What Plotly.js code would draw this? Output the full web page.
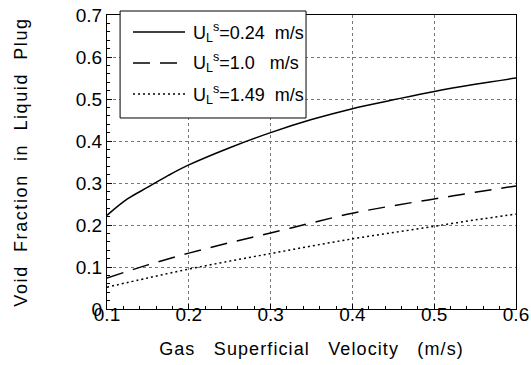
<!DOCTYPE html>
<html><head><meta charset="utf-8">
<script src="https://cdn.plot.ly/plotly-3.0.1.min.js"></script>
<style>body{margin:0;background:#fff}#c{width:531px;height:365px}
.xtitle{letter-spacing:1.1px}.ytitle{letter-spacing:1.6px}</style>
</head><body><div id="c"></div>
<script>
const gasVelocity = [0.1,0.125,0.15,0.175,0.2,0.25,0.3,0.35,0.4,0.45,0.5,0.55,0.6];
const voidUL024 = [0.223,0.262,0.29,0.318,0.343,0.384,0.42,0.451,0.477,0.498,0.518,0.535,0.55];
const gasVelocity2 = [0.1,0.15,0.2,0.25,0.3,0.35,0.4,0.45,0.5,0.55,0.6];
const voidUL10 = [0.074,0.105,0.133,0.158,0.181,0.205,0.228,0.246,0.262,0.278,0.293];
const voidUL149 = [0.052,0.074,0.095,0.114,0.132,0.15,0.167,0.182,0.197,0.212,0.226];
const seriesNames = ["U<sub>L</sub><sup>s</sup>=0.24\u00A0 m/s","U<sub>L</sub><sup>s</sup>=1.0\u00A0\u00A0 m/s","U<sub>L</sub><sup>s</sup>=1.49\u00A0 m/s"];
const seriesDash = ["solid", "17px,10px", "2px,3px"];

const traces = [
  {x: gasVelocity, y: voidUL024, name: seriesNames[0], mode: "lines", showlegend: false, line: {color: "#000", width: 1.5, dash: seriesDash[0], shape: "spline"}},
  {x: gasVelocity2, y: voidUL10, name: seriesNames[1], mode: "lines", showlegend: false, line: {color: "#000", width: 1.5, dash: seriesDash[1], shape: "spline"}},
  {x: gasVelocity2, y: voidUL149, name: seriesNames[2], mode: "lines", showlegend: false, line: {color: "#000", width: 1.5, dash: seriesDash[2], shape: "spline"}}
];
const fam = "Liberation Sans, Arial, sans-serif";
const axisCommon = {
  showline: true, linecolor: "#000", linewidth: 1, mirror: true,
  showgrid: true, gridcolor: "#777", gridwidth: 1, griddash: "dot",
  zeroline: false, ticks: "inside", ticklen: 5, tickcolor: "#000",
  tickfont: {size: 19, family: fam, color: "#000"},
  minor: {ticks: "inside", ticklen: 3, tickcolor: "#000", showgrid: false}
};
// legend box drawn in paper coordinates
const legRows = [0.942, 0.837, 0.731];
const shapes = [{type: "rect", xref: "paper", yref: "paper", x0: 0.032, x1: 0.4866, y0: 0.6497, y1: 1.0136,
  line: {color: "#000", width: 1}, fillcolor: "#fff", layer: "above"}];
const annotations = [];
seriesNames.forEach((n, i) => {
  shapes.push({type: "line", xref: "paper", yref: "paper", x0: 0.0636, x1: 0.1907, y0: legRows[i], y1: legRows[i],
    line: {color: "#000", width: 1.5, dash: seriesDash[i]}, layer: "above"});
  annotations.push({xref: "paper", yref: "paper", x: 0.205, y: legRows[i], xanchor: "left", yanchor: "middle",
    text: n, showarrow: false, font: {size: 18, family: fam, color: "#000"}});
});
const layout = {
  width: 531, height: 365,
  margin: {l: 107, r: 15, t: 15, b: 56},
  paper_bgcolor: "#fff", plot_bgcolor: "#fff",
  font: {family: fam, color: "#000"},
  showlegend: false,
  shapes: shapes, annotations: annotations,
  xaxis: Object.assign({}, axisCommon, {range: [0.1, 0.6], dtick: 0.1, tick0: 0.1, ticklabelstandoff: -12,
    minor: Object.assign({}, axisCommon.minor, {dtick: 0.02}),
    title: {text: "Gas\u00A0\u00A0 Superficial\u00A0\u00A0 Velocity\u00A0\u00A0 (m/s)", font: {size: 18, family: fam, color: "#000"}, standoff: 18}}),
  yaxis: Object.assign({}, axisCommon, {range: [0, 0.7], dtick: 0.1, minor: Object.assign({}, axisCommon.minor, {dtick: 0.02}),
    title: {text: "Void\u00A0 Fraction\u00A0 in\u00A0 Liquid\u00A0 Plug", font: {size: 18, family: fam, color: "#000"}, standoff: 43}})
};
Plotly.newPlot("c", traces, layout, {displayModeBar: false, staticPlot: true});
</script></body></html>
